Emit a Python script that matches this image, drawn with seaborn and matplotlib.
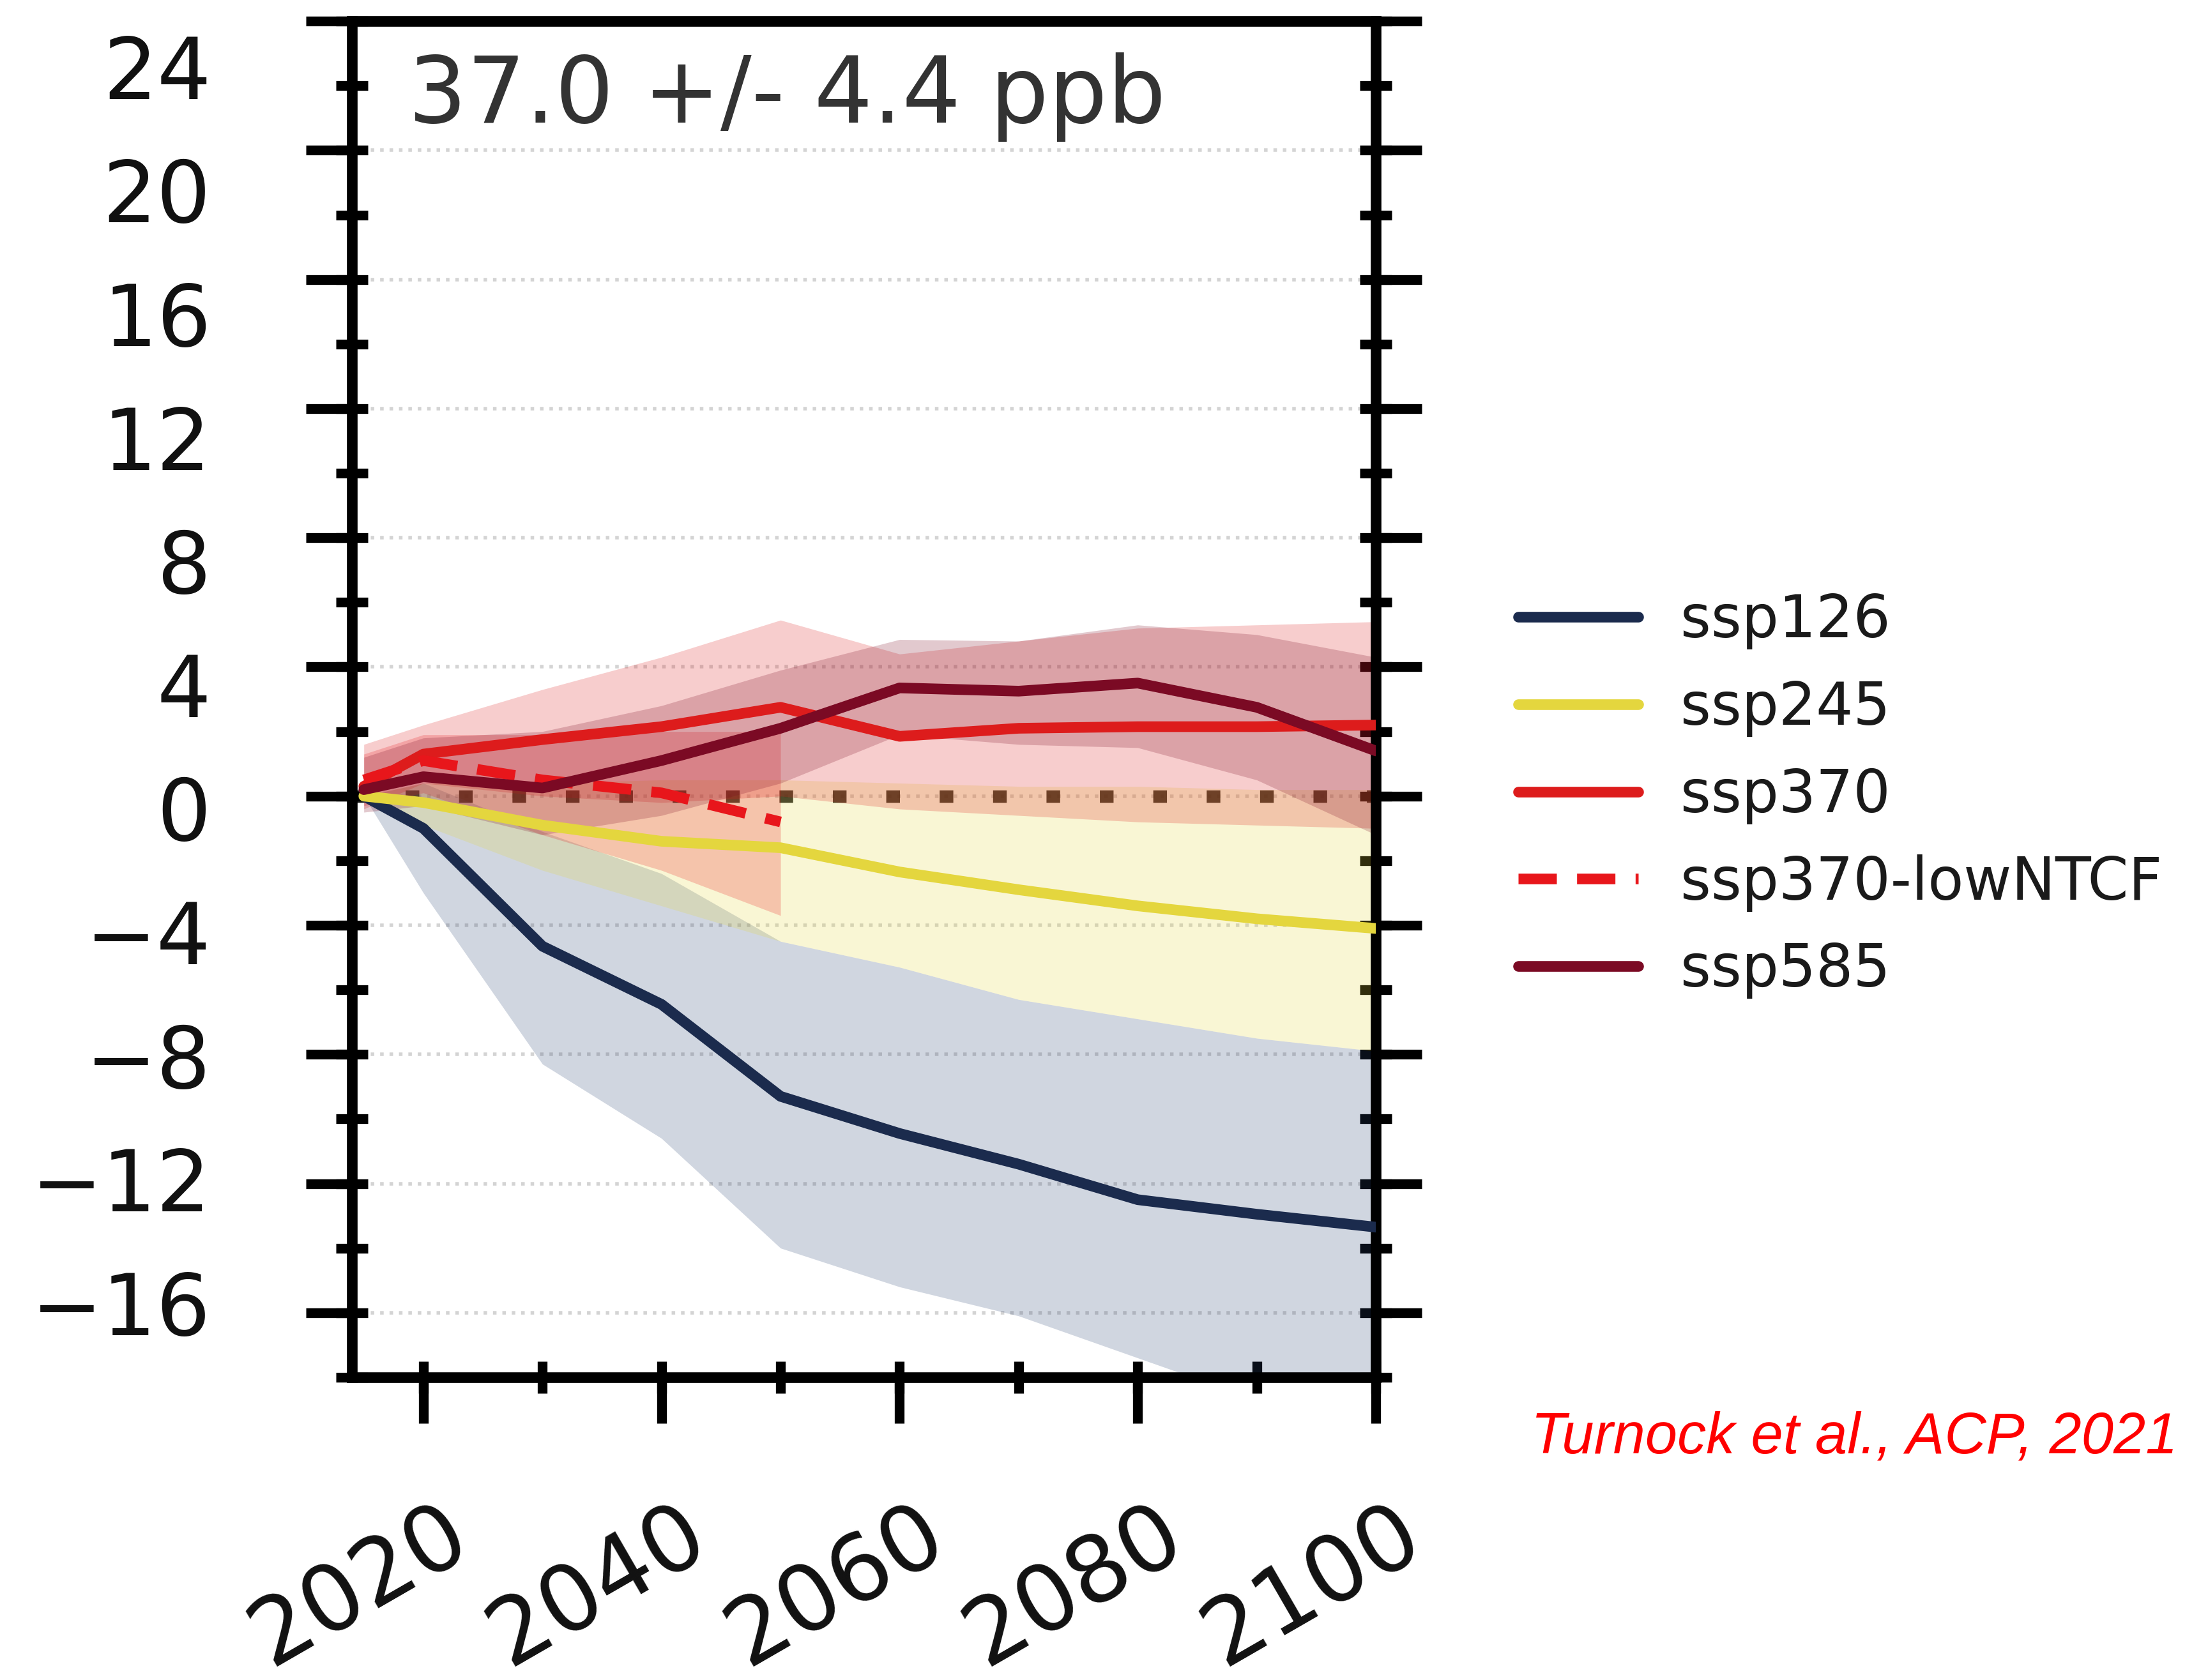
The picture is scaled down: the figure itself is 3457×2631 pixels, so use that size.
import numpy as np
import pandas as pd
import matplotlib
matplotlib.use("Agg")
import matplotlib.pyplot as plt
import seaborn as sns
from matplotlib.ticker import MultipleLocator, FixedLocator
from matplotlib.transforms import ScaledTranslation

# ---------------- data ----------------
years = [2015, 2020, 2030, 2040, 2050, 2060, 2070, 2080, 2090, 2100]
years_lowntcf = [2015, 2020, 2030, 2040, 2050]

ssp126_mean = [0.0, -1.0, -4.65, -6.45, -9.3, -10.45, -11.4, -12.5, -12.95, -13.35]
ssp126_upper = [0.0, 0.4, -1.1, -2.4, -4.5, -5.3, -6.3, -6.9, -7.5, -7.9]
ssp126_lower = [0.0, -3.0, -8.3, -10.6, -14.0, -15.2, -16.1, -17.4, -18.7, -19.5]

ssp245_mean = [0.0, -0.2, -0.9, -1.4, -1.6, -2.35, -2.9, -3.4, -3.8, -4.1]
ssp245_upper = [0.0, 0.4, 0.4, 0.5, 0.5, 0.4, 0.3, 0.3, 0.2, 0.2]
ssp245_lower = [0.0, -0.9, -2.3, -3.4, -4.5, -5.3, -6.3, -6.9, -7.5, -7.9]

ssp370_mean = [0.3, 1.3, 1.75, 2.15, 2.75, 1.85, 2.1, 2.15, 2.15, 2.2]
ssp370_upper = [1.6, 2.2, 3.3, 4.3, 5.45, 4.4, 4.8, 5.2, 5.3, 5.4]
ssp370_lower = [-0.4, 0.4, 0.0, -0.2, 0.0, -0.4, -0.6, -0.8, -0.9, -1.0]

lowntcf_mean = [0.5, 1.1, 0.5, 0.1, -0.8]
lowntcf_upper = [1.3, 1.9, 1.9, 2.0, 2.0]
lowntcf_lower = [-0.3, 0.1, -1.2, -2.3, -3.7]

ssp585_mean = [0.2, 0.6, 0.25, 1.1, 2.1, 3.35, 3.25, 3.5, 2.75, 1.4]
ssp585_upper = [1.2, 1.8, 2.0, 2.8, 3.9, 4.85, 4.8, 5.3, 5.0, 4.3]
ssp585_lower = [-0.5, -0.3, -1.2, -0.6, 0.4, 1.9, 1.6, 1.5, 0.5, -1.2]

scenario_names = ["ssp126", "ssp245", "ssp370", "ssp370-lowNTCF", "ssp585"]
line_colors = ["#1b2b4d", "#e4d63e", "#dd1c1c", "#e8161b", "#7b0a24"]
band_colors = ["#2d4674", "#e4d63e", "#dd1c1c", "#e8161b", "#7b0a24"]

xtick_values = [2020, 2040, 2060, 2080, 2100]
ytick_values = [24, 20, 16, 12, 8, 4, 0, -4, -8, -12, -16]

annotation = "37.0 +/- 4.4 ppb"
citation = "Turnock et al., ACP, 2021"

# ---------------- figure ----------------
sns.set_style("white")
plt.rcParams["font.family"] = ["DejaVu Sans"]

fig = plt.figure(figsize=(17.285, 13.155), dpi=200)
ax = fig.add_axes([0.1594, 0.1802, 0.4637, 0.8072])

series = [
    (years, ssp126_mean, ssp126_lower, ssp126_upper),
    (years, ssp245_mean, ssp245_lower, ssp245_upper),
    (years, ssp370_mean, ssp370_lower, ssp370_upper),
    (years_lowntcf, lowntcf_mean, lowntcf_lower, lowntcf_upper),
    (years, ssp585_mean, ssp585_lower, ssp585_upper),
]

# zero reference line (under the shading)
ax.axhline(0, color="black", lw=7, linestyle=(0, (1.1, 3.2)), alpha=0.85, zorder=1)

# shaded spreads
for (yr, m, lo, hi), col in zip(series, band_colors):
    ax.fill_between(yr, lo, hi, color=col, alpha=0.22, lw=0, zorder=2)

# mean lines through seaborn
for name, (yr, m, lo, hi), col in zip(scenario_names, series, line_colors):
    df = pd.DataFrame({"year": yr, "value": m})
    ls = (0, (3.6, 1.9)) if "lowNTCF" in name else "-"
    sns.lineplot(data=df, x="year", y="value", color=col, lw=6, linestyle=ls,
                 errorbar=None, label=name, ax=ax, zorder=3)

ax.set_xlabel("")
ax.set_ylabel("")
ax.set_xlim(2014, 2100)
ax.set_ylim(-18, 24)

# grid
ax.yaxis.grid(True, linestyle=":", color="#d4d4d4", lw=2.0)
ax.xaxis.grid(False)
ax.set_axisbelow(True)

# spines and ticks
for s in ax.spines.values():
    s.set_linewidth(6)
    s.set_color("black")

ax.xaxis.set_major_locator(FixedLocator(xtick_values))
ax.xaxis.set_minor_locator(MultipleLocator(10))
ax.yaxis.set_major_locator(FixedLocator(ytick_values))
ax.yaxis.set_minor_locator(MultipleLocator(2))
ax.xaxis.remove_overlapping_locs = False
ax.yaxis.remove_overlapping_locs = False
ax.tick_params(which="major", direction="out", length=26, width=5.5, color="black",
               left=True, right=True, bottom=True, top=False,
               labelleft=False, labelbottom=False)
ax.tick_params(which="minor", direction="inout", length=18, width=5.5, color="black",
               left=True, right=True, bottom=True, top=False)

# tick labels (placed as in the reference image)
for v in ytick_values:
    lab = str(v) if v >= 0 else "\u2212" + str(abs(v))
    off_pt = (32 - 0.98 * (24 - v)) * 0.7937
    tr = ax.get_yaxis_transform() + ScaledTranslation(0, -off_pt / 72, fig.dpi_scale_trans)
    ax.text(-0.1376, v, lab, transform=tr, ha="right", va="center_baseline",
            fontsize=48, color="#111111", clip_on=False)

for v in xtick_values:
    tr = ax.get_xaxis_transform() + ScaledTranslation(34 / 72, 0, fig.dpi_scale_trans)
    ax.text(v, -0.082, str(v), transform=tr, rotation=30, ha="right", va="top",
            fontsize=52, color="#111111", clip_on=False)

# annotation inside the panel
ax.text(0.055, 0.925, annotation, transform=ax.transAxes, fontsize=52,
        color="#333333", ha="left", va="baseline")

# legend
ax.legend(loc="center left", bbox_to_anchor=(0.6875, 0.5265), bbox_transform=fig.transFigure,
          frameon=False, fontsize=33, handlelength=2.05, handletextpad=0.72,
          labelspacing=0.51, borderpad=0, borderaxespad=0)
for t in ax.get_legend().get_texts():
    t.set_color("#1a1a1a")

# citation
fig.text(0.6935, 0.135, citation, color="#ff0000", fontstyle="italic",
         fontfamily=["Liberation Sans", "DejaVu Sans"], fontsize=32.5, va="baseline")

fig.savefig("out.png", dpi=200, facecolor="white")
